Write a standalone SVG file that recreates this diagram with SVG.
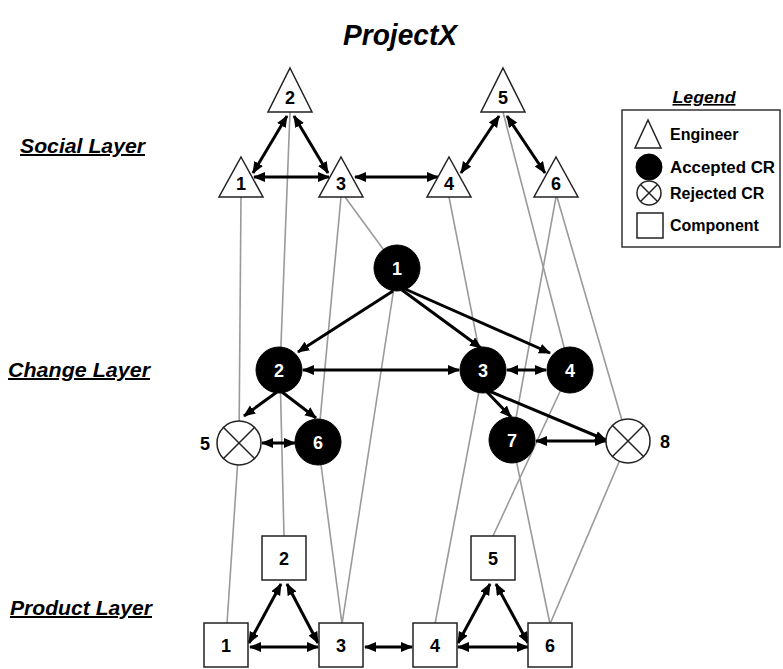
<svg xmlns="http://www.w3.org/2000/svg" width="783" height="669" viewBox="0 0 783 669">
<style>
  text { font-family: "Liberation Sans", Arial, sans-serif; font-weight: bold; }
  .title { font-size: 30px; font-style: italic; }
  .layer { font-size: 20px; font-style: italic; text-decoration: underline; }
  .lbl { font-size: 18px; text-anchor: middle; fill: #000; }
  .wlbl { font-size: 18px; text-anchor: middle; fill: #fff; }
  .leg { font-size: 16px; fill: #000; }
  .tri { fill: #fff; stroke: #222; stroke-width: 1.5; }
  .acc { fill: #000; stroke: #000; stroke-width: 1; }
  .rej { fill: #fff; stroke: #222; stroke-width: 1.5; }
  .comp { fill: #fff; stroke: #222; stroke-width: 1.5; }
  .gray { stroke: #9a9a9a; stroke-width: 1.6; fill: none; }
  .arr { stroke: #000; stroke-width: 3; fill: none; marker-end: url(#ah); }
  .bi { stroke: #000; stroke-width: 3; fill: none; marker-end: url(#ah); marker-start: url(#ah); }
</style>
<defs>
  <marker id="ah" markerUnits="userSpaceOnUse" markerWidth="13" markerHeight="11" refX="11" refY="5" orient="auto-start-reverse">
    <path d="M0,0 L12,5 L0,10 z" fill="#000"/>
  </marker>
</defs>
<rect width="783" height="669" fill="#fff"/>

<text class="title" x="400" y="45" text-anchor="middle" textLength="114" lengthAdjust="spacingAndGlyphs">ProjectX</text>
<text class="layer" x="20" y="153" textLength="125" lengthAdjust="spacingAndGlyphs">Social Layer</text>
<text class="layer" x="8" y="377" textLength="142" lengthAdjust="spacingAndGlyphs">Change Layer</text>
<text class="layer" x="10" y="615" textLength="142" lengthAdjust="spacingAndGlyphs">Product Layer</text>

<g id="connectors">
  <g id="gray-links">
    <line class="gray" x1="241" y1="197" x2="239" y2="443"/>
    <line class="gray" x1="239" y1="443" x2="227" y2="624"/>
    <line class="gray" x1="290" y1="112" x2="280" y2="370"/>
    <line class="gray" x1="280" y1="370" x2="284" y2="536"/>
    <line class="gray" x1="345" y1="197" x2="397" y2="268"/>
    <line class="gray" x1="341" y1="197" x2="318" y2="442"/>
    <line class="gray" x1="318" y1="442" x2="342" y2="624"/>
    <line class="gray" x1="397" y1="268" x2="342" y2="624"/>
    <line class="gray" x1="449" y1="197" x2="483" y2="370"/>
    <line class="gray" x1="483" y1="370" x2="435" y2="624"/>
    <line class="gray" x1="503" y1="112" x2="570" y2="370"/>
    <line class="gray" x1="556" y1="197" x2="512" y2="440"/>
    <line class="gray" x1="557" y1="197" x2="628" y2="441"/>
    <line class="gray" x1="570" y1="370" x2="493" y2="536"/>
    <line class="gray" x1="512" y1="440" x2="550" y2="624"/>
    <line class="gray" x1="628" y1="441" x2="550" y2="624"/>
  </g>
  <g id="social-arrows">
    <line class="bi" x1="287" y1="116" x2="253" y2="173"/>
    <line class="bi" x1="294" y1="116" x2="328" y2="173"/>
    <line class="bi" x1="254" y1="177" x2="329" y2="177"/>
    <line class="bi" x1="355" y1="177" x2="438" y2="177"/>
    <line class="bi" x1="499" y1="116" x2="461" y2="173"/>
    <line class="bi" x1="507" y1="116" x2="545" y2="173"/>
  </g>
  <g id="change-arrows">
    <line class="arr" x1="393" y1="291" x2="298" y2="352"/>
    <line class="arr" x1="402" y1="290" x2="481" y2="348"/>
    <line class="arr" x1="405" y1="289" x2="550" y2="353"/>
    <line class="bi" x1="303" y1="370" x2="459" y2="370"/>
    <line class="bi" x1="507" y1="370" x2="546" y2="370"/>
    <line class="arr" x1="277" y1="392" x2="244" y2="416"/>
    <line class="arr" x1="282" y1="392" x2="316" y2="418"/>
    <line class="bi" x1="262" y1="443" x2="295" y2="443"/>
    <line class="arr" x1="487" y1="392" x2="511" y2="417"/>
    <line class="arr" x1="489" y1="391" x2="606" y2="440"/>
    <line class="bi" x1="536" y1="441" x2="606" y2="441"/>
  </g>
  <g id="product-arrows">
    <line class="bi" x1="249" y1="643" x2="281" y2="584"/>
    <line class="bi" x1="287" y1="584" x2="318" y2="643"/>
    <line class="bi" x1="250" y1="647" x2="318" y2="647"/>
    <line class="bi" x1="365" y1="647" x2="412" y2="647"/>
    <line class="bi" x1="458" y1="643" x2="490" y2="584"/>
    <line class="bi" x1="496" y1="584" x2="528" y2="643"/>
    <line class="bi" x1="458" y1="647" x2="528" y2="647"/>
  </g>
</g>

<g id="engineer-1"><polygon class="tri" points="241,157 263,197 219,197"/><text class="lbl" x="241" y="190">1</text></g>
<g id="engineer-2"><polygon class="tri" points="290,68 312,112 268,112"/><text class="lbl" x="290" y="104">2</text></g>
<g id="engineer-3"><polygon class="tri" points="341,157 363,197 319,197"/><text class="lbl" x="341" y="190">3</text></g>
<g id="engineer-4"><polygon class="tri" points="449,157 471,197 427,197"/><text class="lbl" x="449" y="190">4</text></g>
<g id="engineer-5"><polygon class="tri" points="503,68 525,112 481,112"/><text class="lbl" x="503" y="104">5</text></g>
<g id="engineer-6"><polygon class="tri" points="556,157 578,197 534,197"/><text class="lbl" x="556" y="190">6</text></g>

<g id="cr-1"><circle class="acc" cx="397" cy="268" r="23"/><text class="wlbl" x="397" y="274.5">1</text></g>
<g id="cr-2"><circle class="acc" cx="279" cy="370" r="23"/><text class="wlbl" x="279" y="376.5">2</text></g>
<g id="cr-3"><circle class="acc" cx="483" cy="370" r="23"/><text class="wlbl" x="483" y="376.5">3</text></g>
<g id="cr-4"><circle class="acc" cx="570" cy="370" r="23"/><text class="wlbl" x="570" y="376.5">4</text></g>
<g id="cr-5"><circle class="rej" cx="239" cy="443" r="22"/><path d="M223,427 L255,459 M255,427 L223,459" stroke="#222" stroke-width="1.5"/><text class="lbl" x="205" y="449.5">5</text></g>
<g id="cr-6"><circle class="acc" cx="318" cy="442" r="23"/><text class="wlbl" x="318" y="448.5">6</text></g>
<g id="cr-7"><circle class="acc" cx="512" cy="440" r="23"/><text class="wlbl" x="512" y="446.5">7</text></g>
<g id="cr-8"><circle class="rej" cx="628" cy="441" r="22"/><path d="M612,425 L644,457 M644,425 L612,457" stroke="#222" stroke-width="1.5"/><text class="lbl" x="665" y="447.5">8</text></g>

<g id="component-1"><rect class="comp" x="204" y="623" width="44" height="44"/><text class="lbl" x="226" y="652">1</text></g>
<g id="component-2"><rect class="comp" x="262" y="536" width="44" height="44"/><text class="lbl" x="284" y="565">2</text></g>
<g id="component-3"><rect class="comp" x="319" y="623" width="44" height="44"/><text class="lbl" x="341" y="652">3</text></g>
<g id="component-4"><rect class="comp" x="413" y="623" width="44" height="44"/><text class="lbl" x="435" y="652">4</text></g>
<g id="component-5"><rect class="comp" x="471" y="536" width="44" height="44"/><text class="lbl" x="493" y="565">5</text></g>
<g id="component-6"><rect class="comp" x="528" y="623" width="44" height="44"/><text class="lbl" x="550" y="652">6</text></g>

<g id="legend">
  <text class="leg" x="704" y="103" text-anchor="middle" font-style="italic" text-decoration="underline" textLength="63" lengthAdjust="spacingAndGlyphs">Legend</text>
  <rect x="622" y="110" width="158" height="137" fill="#fff" stroke="#333" stroke-width="1.5"/>
  <polygon class="tri" points="648,120 661,148 635,148"/>
  <text class="leg" x="670" y="140">Engineer</text>
  <circle class="acc" cx="649" cy="167" r="13"/>
  <text class="leg" x="670" y="173" textLength="105" lengthAdjust="spacingAndGlyphs">Accepted CR</text>
  <circle class="rej" cx="649" cy="193" r="12"/>
  <path d="M640.5,184.5 L657.5,201.5 M657.5,184.5 L640.5,201.5" stroke="#222" stroke-width="1.5"/>
  <text class="leg" x="670" y="199">Rejected CR</text>
  <rect class="comp" x="637" y="213" width="26" height="25"/>
  <text class="leg" x="670" y="231">Component</text>
</g>
</svg>
